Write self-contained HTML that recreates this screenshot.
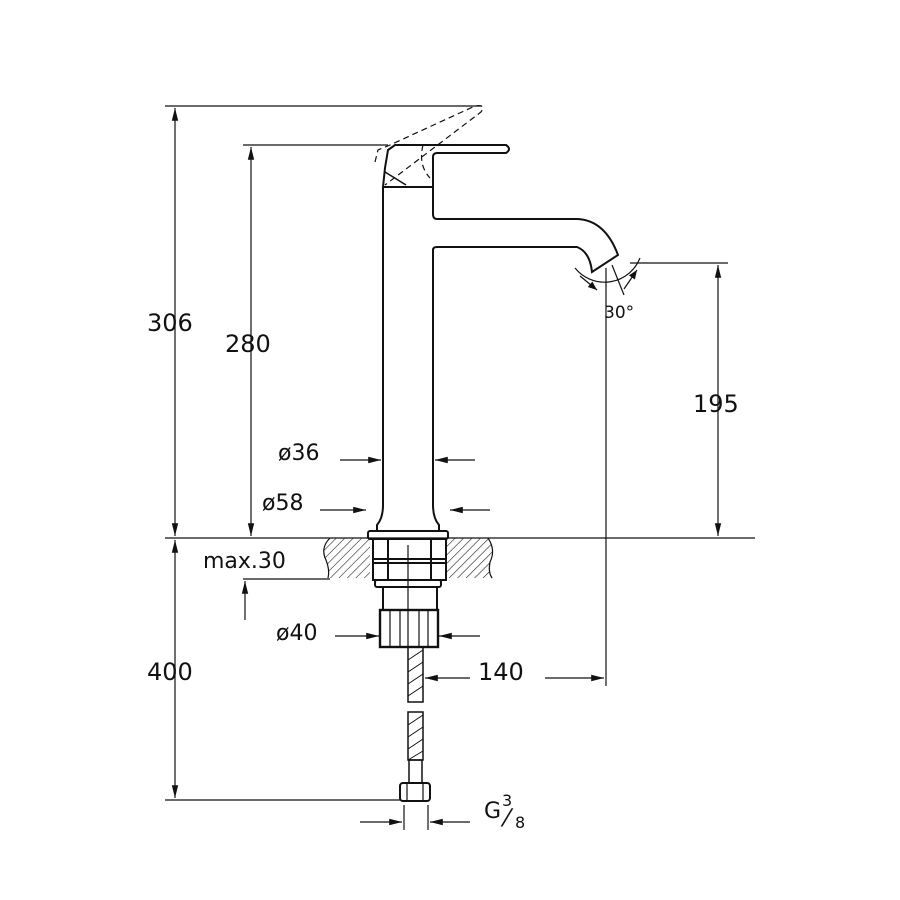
<!DOCTYPE html>
<html><head><style>body{margin:0;background:#fff}svg{display:block}text{font-family:"DejaVu Sans","Liberation Sans",sans-serif;fill:#111}</style></head>
<body>
<svg width="900" height="900" viewBox="0 0 900 900" xmlns="http://www.w3.org/2000/svg">
<defs>
<marker id="a" viewBox="0 0 10 10" refX="10" refY="5" markerWidth="12" markerHeight="9" orient="auto-start-reverse" markerUnits="userSpaceOnUse"><path d="M0,1 L10,5 L0,9 z" fill="#111"/></marker>
<marker id="b" viewBox="0 0 16 10" refX="16" refY="5" markerWidth="16" markerHeight="8" orient="auto-start-reverse" markerUnits="userSpaceOnUse"><path d="M0,1 L16,5 L0,9 z" fill="#111"/></marker>
<pattern id="h" width="6" height="6" patternUnits="userSpaceOnUse" patternTransform="rotate(45)"><line x1="0" y1="0" x2="0" y2="6" stroke="#222" stroke-width="1.2"/></pattern>
</defs>
<g stroke="#111" stroke-width="1.2" fill="none">
<line x1="165" y1="106" x2="482" y2="106"/>
<line x1="243" y1="145" x2="388" y2="145"/>
<line x1="165" y1="538" x2="755" y2="538"/>
<line x1="243" y1="579" x2="330" y2="579"/>
<line x1="165" y1="800" x2="400" y2="800"/>
<line x1="630" y1="263" x2="728" y2="263"/>
<line x1="606" y1="268" x2="606" y2="686"/>
<line x1="404" y1="805" x2="404" y2="830"/>
<line x1="428" y1="805" x2="428" y2="830"/>
<line x1="175" y1="108" x2="175" y2="536" marker-start="url(#b)" marker-end="url(#b)"/>
<line x1="175" y1="540" x2="175" y2="798" marker-start="url(#b)" marker-end="url(#b)"/>
<line x1="251" y1="147" x2="251" y2="536" marker-start="url(#b)" marker-end="url(#b)"/>
<line x1="245" y1="620" x2="245" y2="581" marker-end="url(#b)"/>
<line x1="718" y1="265" x2="718" y2="536" marker-start="url(#b)" marker-end="url(#b)"/>
<line x1="340" y1="460" x2="381" y2="460" marker-end="url(#b)"/>
<line x1="475" y1="460" x2="435" y2="460" marker-end="url(#b)"/>
<line x1="320" y1="510" x2="366" y2="510" marker-end="url(#b)"/>
<line x1="490" y1="510" x2="450" y2="510" marker-end="url(#b)"/>
<line x1="335" y1="636" x2="379" y2="636" marker-end="url(#b)"/>
<line x1="480" y1="636" x2="439" y2="636" marker-end="url(#b)"/>
<line x1="545" y1="678" x2="604" y2="678" marker-end="url(#b)"/>
<line x1="470" y1="678" x2="425" y2="678" marker-end="url(#b)"/>
<line x1="360" y1="822" x2="402" y2="822" marker-end="url(#b)"/>
<line x1="470" y1="822" x2="430" y2="822" marker-end="url(#b)"/>
<path d="M575,268 A38,38 0 0 0 640,258"/>
<line x1="580" y1="276" x2="597" y2="290" marker-end="url(#a)"/>
<line x1="624" y1="289" x2="637" y2="270" marker-end="url(#a)"/>
<line x1="612" y1="265" x2="624" y2="295"/>
<path d="M370,538 L330,538 Q320,548 326,560 Q330,570 328,578 L370,578 Z" fill="url(#h)" stroke="none"/>
<path d="M446,538 L488,538 Q496,550 490,562 Q488,572 492,578 L446,578 Z" fill="url(#h)" stroke="none"/>
<path d="M330,538 Q320,548 326,560 Q330,570 328,578"/>
<path d="M488,538 Q496,550 490,562 Q488,572 492,578"/>
<path d="M383,187 L383,505 Q383,518 377,525 L377,530" stroke-width="2"/>
<path d="M433,250 Q433,247 437,247 L577,247 Q590,252 592,272 L618,255 Q605,220 577,219 L437,219 Q433,219 433,214 L433,157 Q433,153 437,153 L506,153 Q512,149 506,145 L395,145 L388,150 L385,168 L383,187 L433,187" stroke-width="2"/>
<path d="M385,172 L406,185" stroke-width="1.5"/>
<path d="M433,250 L433,505 Q433,518 439,525 L439,530" stroke-width="2"/>
<path d="M375,162 L378,150 L390,145 L475,106 Q486,104 481,112 L385,185" stroke-dasharray="6,4" stroke-width="1.2"/>
<path d="M423,145 Q418,165 430,178" stroke-dasharray="6,4"/>
<rect x="368" y="531" width="80" height="8" rx="2" stroke-width="2"/>
<rect x="373" y="539" width="73" height="41" stroke-width="2"/>
<line x1="388" y1="539" x2="388" y2="580" stroke-width="2"/>
<line x1="431" y1="539" x2="431" y2="580" stroke-width="2"/>
<line x1="373" y1="559" x2="446" y2="559" stroke-width="2"/>
<line x1="373" y1="563" x2="446" y2="563" stroke-width="2"/>
<rect x="375" y="580" width="66" height="7" rx="2" stroke-width="2"/>
<rect x="383" y="587" width="54" height="23" stroke-width="2"/>
<rect x="380" y="610" width="58" height="37" stroke-width="2.4"/>
<line x1="390" y1="610" x2="390" y2="647"/>
<line x1="400" y1="610" x2="400" y2="647"/>
<line x1="419" y1="610" x2="419" y2="647"/>
<line x1="428" y1="610" x2="428" y2="647"/>
<line x1="408" y1="545" x2="408" y2="647"/>
<rect x="408" y="647" width="15" height="55" stroke-width="1.5"/>
<rect x="408" y="712" width="15" height="48" stroke-width="1.5"/>
<path d="M408,660 L423,650 M408,672 L423,662 M408,684 L423,674 M408,696 L423,686 M408,725 L423,715 M408,737 L423,727 M408,749 L423,739 M408,760 L423,751" stroke-width="1"/>
<rect x="409" y="760" width="13" height="23" stroke-width="1.5"/>
<rect x="400" y="783" width="30" height="18" rx="3" stroke-width="2"/>
<line x1="407" y1="783" x2="407" y2="801"/>
<line x1="423" y1="783" x2="423" y2="801"/>
</g>
<g font-size="24">
<text x="147" y="331">306</text>
<text x="225" y="352">280</text>
<text x="147" y="680">400</text>
<text x="693" y="412">195</text>
<text x="478" y="680">140</text>
<text x="278" y="460" font-size="22">ø36</text>
<text x="262" y="510" font-size="22">ø58</text>
<text x="276" y="640" font-size="22">ø40</text>
<text x="203" y="568" font-size="22">max.30</text>
<text x="604" y="318" font-size="17">30°</text>
<text x="484" y="818" font-size="22">G</text>
<text x="502" y="806" font-size="16">3</text>
<text x="505" y="826" font-size="24">⁄</text>
<text x="515" y="828" font-size="16">8</text>
</g>
</svg>
</body></html>
